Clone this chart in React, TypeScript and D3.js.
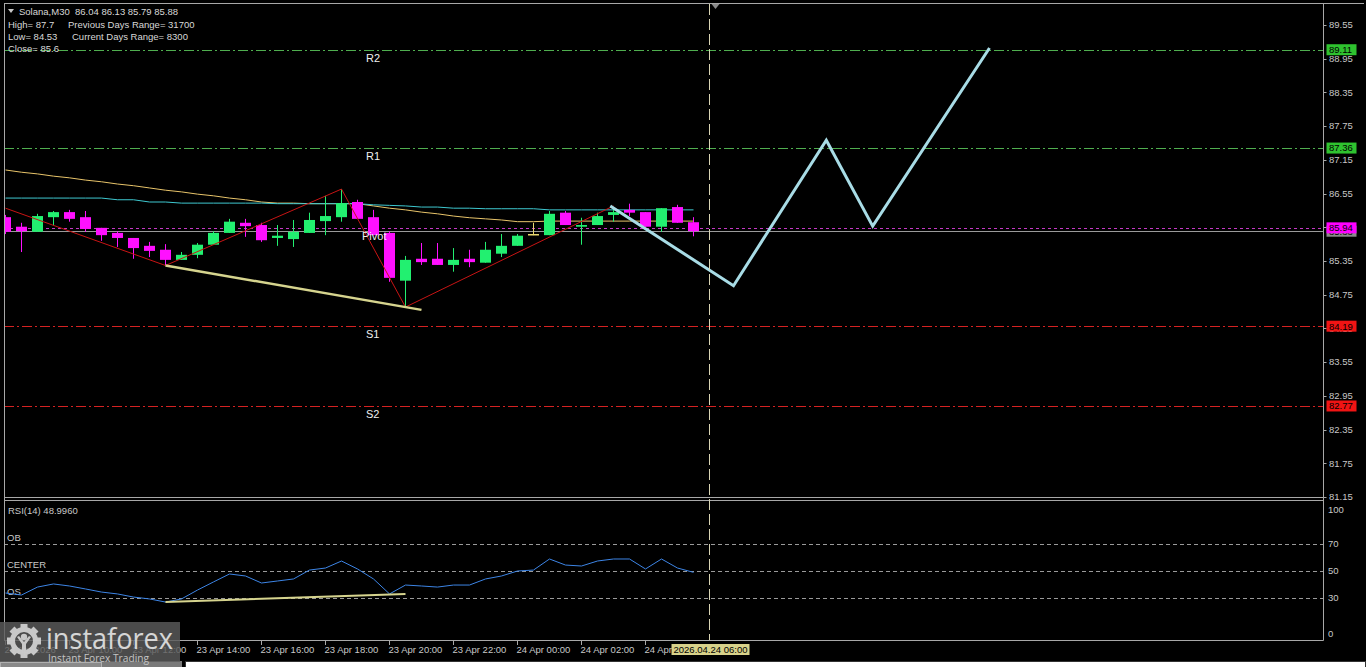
import * as d3 from "d3";

// M30 bars, 23 Apr 08:00 .. 24 Apr 05:30
const OPEN = [86.13, 85.96, 85.87, 86.13, 86.22, 86.13, 85.94, 85.85, 85.76, 85.62, 85.55, 85.37, 85.46, 85.64, 85.85, 86.03, 85.99, 85.76, 85.74, 85.85, 86.06, 86.13, 86.40, 86.13, 85.85, 85.0, 85.39, 85.39, 85.28, 85.39, 85.32, 85.48, 85.62, 85.81, 85.81, 86.21, 85.96, 85.99, 86.17, 86.26, 86.22, 85.96, 86.31, 86.04];
const HIGH = [86.17, 86.03, 86.19, 86.24, 86.26, 86.24, 85.94, 85.88, 85.76, 85.69, 85.65, 85.51, 85.67, 85.88, 86.1, 86.1, 86.03, 85.99, 86.08, 86.21, 86.51, 86.63, 86.44, 86.26, 85.88, 85.44, 85.67, 85.67, 85.58, 85.55, 85.69, 85.83, 85.83, 86.03, 86.24, 86.24, 86.12, 86.21, 86.31, 86.37, 86.22, 86.29, 86.35, 86.13];
const LOW = [85.83, 85.51, 85.87, 85.99, 86.05, 85.87, 85.71, 85.6, 85.39, 85.42, 85.28, 85.37, 85.4, 85.64, 85.85, 85.78, 85.69, 85.62, 85.6, 85.85, 85.81, 86.05, 86.1, 85.81, 84.98, 84.53, 85.28, 85.28, 85.16, 85.24, 85.32, 85.42, 85.62, 85.81, 85.81, 85.99, 85.64, 85.99, 86.05, 86.15, 85.96, 85.87, 86.03, 85.79];
const CLOSE = [85.87, 85.88, 86.15, 86.22, 86.1, 85.92, 85.81, 85.76, 85.58, 85.53, 85.37, 85.46, 85.64, 85.85, 86.05, 85.97, 85.72, 85.8, 85.87, 86.08, 86.15, 86.38, 86.1, 85.81, 85.05, 85.37, 85.33, 85.28, 85.37, 85.33, 85.55, 85.62, 85.8, 85.81, 86.19, 85.99, 85.99, 86.15, 86.22, 86.21, 85.96, 86.29, 86.03, 85.88];

const MA_SLOW = [86.97, 86.93, 86.9, 86.86, 86.83, 86.79, 86.76, 86.72, 86.69, 86.65, 86.61, 86.58, 86.54, 86.51, 86.47, 86.44, 86.4, 86.38, 86.38, 86.37, 86.37, 86.37, 86.37, 86.33, 86.29, 86.26, 86.22, 86.19, 86.15, 86.12, 86.1, 86.08, 86.05, 86.05, 86.06, 86.06, 86.06, 86.06, 86.06, 86.06, 86.06, 86.06, 86.06, 86.06];
const MA_FAST = [86.47, 86.47, 86.47, 86.47, 86.47, 86.47, 86.47, 86.44, 86.44, 86.4, 86.4, 86.38, 86.38, 86.38, 86.38, 86.38, 86.38, 86.37, 86.37, 86.37, 86.37, 86.37, 86.37, 86.35, 86.34, 86.33, 86.31, 86.31, 86.29, 86.29, 86.28, 86.28, 86.28, 86.28, 86.26, 86.26, 86.26, 86.26, 86.26, 86.26, 86.26, 86.26, 86.26, 86.26];

const RSI = [33.7, 32.2, 38.1, 40.4, 38.9, 36.7, 34.4, 33.0, 30.7, 29.3, 27.0, 29.3, 35.9, 41.9, 47.8, 46.3, 41.1, 42.6, 44.1, 50.7, 52.2, 57.4, 51.5, 44.1, 33.0, 39.6, 38.9, 38.1, 39.6, 39.6, 44.1, 46.3, 50.0, 50.7, 58.9, 54.4, 53.7, 57.4, 58.9, 58.9, 51.5, 58.9, 52.2, 49.0];

// zigzag / trend / forecast, as [bar index, price]
const ZIGZAG: [number, number][] = [[0, 86.29], [10, 85.27], [21, 86.63], [25, 84.53], [38, 86.33]];
const LOW_TREND: [number, number][] = [[10, 85.27], [26, 84.48]];
const RSI_TREND: [number, number][] = [[10, 27.0], [25, 33.0]];
const FORECAST: [number, number][] = [[37.8, 86.33], [45.5, 84.91], [51.3, 87.5], [54.2, 85.97], [61.5, 89.14]];

const LEVELS = [
  { name: "R2", price: 89.11, kind: "r" },
  { name: "R1", price: 87.36, kind: "r" },
  { name: "Pivot", price: 85.94, kind: "p" },
  { name: "S1", price: 84.19, kind: "s" },
  { name: "S2", price: 82.77, kind: "s" },
];
const BID = 85.88;

const PRICE_TICKS = [89.55, 88.95, 88.35, 87.75, 87.15, 86.55, 85.95, 85.35, 84.75, 84.15, 83.55, 82.95, 82.35, 81.75, 81.15];
const RSI_LEVELS = [
  { label: "OB", v: 70 },
  { label: "CENTER", v: 50 },
  { label: "OS", v: 30 },
];
const RSI_TICKS = [100, 70, 50, 30, 0];
const TIME_IDX = [0, 4, 8, 12, 16, 20, 24, 28, 32, 36, 40];
const TIME_LABELS = ["23 Apr 2026", "23 Apr 10:00", "23 Apr 12:00", "23 Apr 14:00", "23 Apr 16:00", "23 Apr 18:00", "23 Apr 20:00", "23 Apr 22:00", "24 Apr 00:00", "24 Apr 02:00", "24 Apr 04:00"];
const NOW_IDX = 44;
const NOW_LABEL = "2026.04.24 06:00";

const W = 1366;
const H = 667;
const LEFT = 4;
const RIGHT = 1323.5;
const FONT = "'Liberation Sans', Arial, sans-serif";

const x = d3.scaleLinear().domain([0, 43]).range([5.5, 693.5]);
const y = d3.scaleLinear().domain([81.15, 89.55]).range([497, 25]);
const ry = d3.scaleLinear().domain([0, 100]).range([638.5, 503.5]);

const priceLine = d3
  .line<number>()
  .x((_, i) => x(i))
  .y((d) => y(d));
const pairLine = d3
  .line<[number, number]>()
  .x((d) => x(d[0]))
  .y((d) => y(d[1]));
const rsiLine = d3
  .line<number>()
  .x((_, i) => x(i))
  .y((d) => ry(d));
const rsiPair = d3
  .line<[number, number]>()
  .x((d) => x(d[0]))
  .y((d) => ry(d[1]));

const levelColor = (k: string) => (k === "r" ? "#4fae4f" : k === "s" ? "#d42222" : "#c438c4");
const boxColor = (k: string) => (k === "r" ? "#2fc22f" : k === "s" ? "#f01414" : "#ff00ff");

function Gear() {
  const teeth = d3.range(8);
  return (
    <g transform="translate(24,641)" fill="#d6d6d6" opacity={0.9}>
      {teeth.map((t) => (
        <rect key={t} x={-3.5} y={-17} width={7} height={8} transform={`rotate(${t * 45})`} />
      ))}
      <circle r={11.5} fill="none" stroke="#d6d6d6" strokeWidth={5} />
      <circle cx={0} cy={-4} r={3.2} />
      <path d="M-7,-4 L-2,3 L-2,12 L2,12 L2,3 L7,-4 L5,-5 L0,1 L-5,-5 Z" />
    </g>
  );
}

export default function App() {
  const nowX = x(NOW_IDX);
  const bidY = y(BID);
  return (
    <svg
      width={W}
      height={H}
      viewBox={`0 0 ${W} ${H}`}
      style={{ position: "absolute", left: 0, top: 0, display: "block", background: "#000" }}
      fontFamily={FONT}
    >
      <defs>
        <clipPath id="mainClip">
          <rect x={LEFT + 1} y={4} width={RIGHT - LEFT - 1.5} height={493} />
        </clipPath>
        <clipPath id="rsiClip">
          <rect x={LEFT + 1} y={501} width={RIGHT - LEFT - 1.5} height={139} />
        </clipPath>
      </defs>
      <rect x={0} y={0} width={W} height={H} fill="#000" />

      {/* frame */}
      <g stroke="#a8a8a8" strokeWidth={1} fill="none">
        <line x1={LEFT} x2={W - 2} y1={3.5} y2={3.5} />
        <line x1={LEFT + 0.5} x2={LEFT + 0.5} y1={3.5} y2={640.5} />
        <line x1={RIGHT} x2={RIGHT} y1={3.5} y2={640.5} />
        <line x1={LEFT} x2={RIGHT} y1={497.5} y2={497.5} />
        <line x1={LEFT} x2={RIGHT} y1={500.5} y2={500.5} />
        <line x1={LEFT} x2={RIGHT} y1={640.5} y2={640.5} />
      </g>

      {/* price axis */}
      <g fill="#c8c8c8" fontSize={9.5}>
        {PRICE_TICKS.map((p) => (
          <g key={p}>
            <line x1={RIGHT} x2={RIGHT + 3} y1={Math.round(y(p)) + 0.5} y2={Math.round(y(p)) + 0.5} stroke="#a8a8a8" />
            <text x={1329} y={y(p)} dy="0.35em">
              {p.toFixed(2)}
            </text>
          </g>
        ))}
      </g>

      <g clipPath="url(#mainClip)">
        {/* pivot levels */}
        {LEVELS.map((l) => (
          <line
            key={l.name}
            x1={LEFT}
            x2={RIGHT}
            y1={Math.round(y(l.price)) + 0.5}
            y2={Math.round(y(l.price)) + 0.5}
            stroke={levelColor(l.kind)}
            strokeDasharray={l.kind === "p" ? "3,3" : "10,3,2,3"}
          />
        ))}
        <line x1={LEFT} x2={RIGHT} y1={Math.round(bidY) + 0.5} y2={Math.round(bidY) + 0.5} stroke="#9a9a9a" />

        {/* moving averages */}
        <path d={priceLine(MA_SLOW) ?? ""} fill="none" stroke="#e8c46a" strokeWidth={1} />
        <path d={priceLine(MA_FAST) ?? ""} fill="none" stroke="#3ec8d0" strokeWidth={1} />

        {/* candles */}
        {OPEN.map((o, i) => {
          const c = CLOSE[i];
          const cx = Math.floor(x(i));
          const hi = y(HIGH[i]);
          const lo = y(LOW[i]);
          if (o === c) {
            return (
              <g key={i} fill="#e8d870">
                <rect x={cx} y={hi} width={1} height={lo - hi} />
                <rect x={cx - 5} y={Math.round(y(o)) - 1} width={11} height={1.5} />
              </g>
            );
          }
          const col = c > o ? "#22f070" : "#ff10ff";
          const top = y(Math.max(o, c));
          const bot = y(Math.min(o, c));
          return (
            <g key={i} fill={col}>
              <rect x={cx} y={hi} width={1} height={Math.max(1, lo - hi)} />
              <rect x={cx - 5} y={top} width={11} height={Math.max(1.5, bot - top)} />
            </g>
          );
        })}

        {/* zigzag and trend */}
        <path d={pairLine(ZIGZAG) ?? ""} fill="none" stroke="#c81414" strokeWidth={1} />
        <path d={pairLine(LOW_TREND) ?? ""} fill="none" stroke="#d6d48e" strokeWidth={2.5} />
        <path d={pairLine(FORECAST) ?? ""} fill="none" stroke="#a8dce6" strokeWidth={3} strokeLinejoin="miter" />

        {/* level names */}
        <g fill="#f0f0f0" fontSize={11}>
          {LEVELS.map((l) => (
            <text key={l.name} x={l.kind === "p" ? 362 : 366} y={y(l.price) + 12}>
              {l.name}
            </text>
          ))}
        </g>
      </g>

      {/* level price boxes */}
      <g fontSize={9.5}>
        <rect x={RIGHT + 3} y={bidY - 5.5} width={30} height={11} fill="#8a8a8a" />
        <text x={1329} y={bidY} dy="0.35em" fill="#000">
          {BID.toFixed(2)}
        </text>
        {LEVELS.map((l) => (
          <g key={l.name}>
            <rect x={RIGHT + 3} y={y(l.price) - 5.5} width={30} height={11} fill={boxColor(l.kind)} />
            <text x={1329} y={y(l.price)} dy="0.35em" fill="#000">
              {l.price.toFixed(2)}
            </text>
          </g>
        ))}
      </g>

      {/* header */}
      <g fill="#d8d8d8" fontSize={9.5}>
        <path d="M8,9 L14,9 L11,13 Z" fill="#c8c8c8" />
        <text x={19} y={15}>Solana,M30</text>
        <text x={75} y={15}>86.04 86.13 85.79 85.88</text>
        <text x={8} y={28}>High= 87.7</text>
        <text x={68} y={28}>Previous Days Range= 31700</text>
        <text x={8} y={40}>Low= 84.53</text>
        <text x={72} y={40}>Current Days Range= 8300</text>
        <text x={8} y={52}>Close= 85.6</text>
      </g>

      {/* RSI panel */}
      <g clipPath="url(#rsiClip)">
        {RSI_LEVELS.map((l) => (
          <g key={l.label}>
            <line
              x1={LEFT}
              x2={RIGHT}
              y1={Math.round(ry(l.v)) + 0.5}
              y2={Math.round(ry(l.v)) + 0.5}
              stroke="#9a9a9a"
              strokeDasharray="4,3"
            />
            <text x={7} y={ry(l.v) - 3} fill="#c8c8c8" fontSize={9.5}>
              {l.label}
            </text>
          </g>
        ))}
        <path d={rsiLine(RSI) ?? ""} fill="none" stroke="#3d85e6" strokeWidth={1} />
        <path d={rsiPair(RSI_TREND) ?? ""} fill="none" stroke="#d6d48e" strokeWidth={2} />
        <text x={8} y={514} fill="#c8c8c8" fontSize={9.5}>
          RSI(14) 48.9960
        </text>
      </g>
      <g fill="#c8c8c8" fontSize={9.5}>
        {RSI_TICKS.map((v) => (
          <text key={v} x={1328} y={v === 100 ? ry(v) + 6 : v === 0 ? ry(v) - 5 : ry(v)} dy="0.35em">
            {v}
          </text>
        ))}
      </g>

      {/* time axis */}
      <g fill="#c8c8c8" fontSize={9.5}>
        {TIME_IDX.map((idx, k) => (
          <g key={idx}>
            <line x1={Math.floor(x(idx)) + 0.5} x2={Math.floor(x(idx)) + 0.5} y1={640} y2={645} stroke="#a8a8a8" />
            <text x={x(idx) - 1} y={653}>
              {TIME_LABELS[k]}
            </text>
          </g>
        ))}
      </g>

      {/* current time marker */}
      <line x1={Math.floor(nowX) + 0.5} x2={Math.floor(nowX) + 0.5} y1={4} y2={640} stroke="#d8d4b4" strokeDasharray="11,4" />
      <path d={`M${nowX + 2},4 L${nowX + 10},4 L${nowX + 6},9 Z`} fill="#8a8a8a" />
      <rect x={nowX - 38} y={644} width={78} height={11} fill="#d8d28a" />
      <text x={nowX - 36} y={653} fontSize={9.5} fill="#000">
        {NOW_LABEL}
      </text>

      {/* bottom tab strip */}
      <rect x={0} y={661} width={182} height={6} fill="#7a7a7a" />
      <rect x={0.5} y={662.5} width={101} height={5} fill="#8a8a8a" stroke="#b0b0b0" />
      <rect x={185.5} y={661.5} width={1180} height={6} fill="#ffffff" stroke="#333" />

      {/* watermark */}
      <rect x={0} y={622} width={180} height={40} fill="#5c5c5c" opacity={0.82} />
      <Gear />
      <text
        x={46}
        y={649}
        fontFamily="'Open Sans', 'DejaVu Sans', sans-serif"
        fontSize={30}
        fill="#e2e2e2"
        textLength={127}
        lengthAdjust="spacingAndGlyphs"
        opacity={0.92}
      >
        instaforex
      </text>
      <text x={48} y={662} fontFamily="'Open Sans', sans-serif" fontSize={10.5} fill="#c4c4c4" textLength={101} lengthAdjust="spacingAndGlyphs">
        Instant Forex Trading
      </text>
    </svg>
  );
}
